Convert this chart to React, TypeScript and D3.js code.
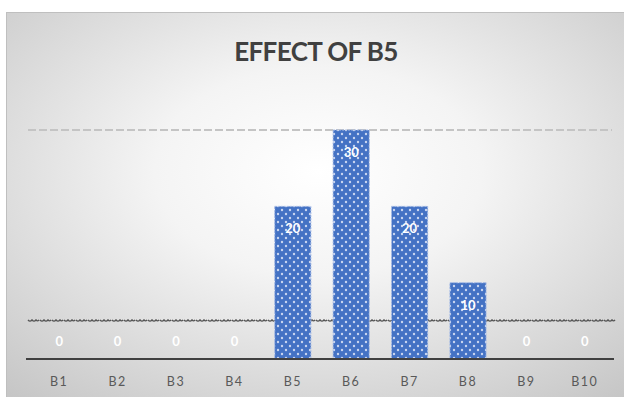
import React from "react";
import * as d3 from "d3";

const categories = ["B1", "B2", "B3", "B4", "B5", "B6", "B7", "B8", "B9", "B10"];
const values = [0, 0, 0, 0, 20, 30, 20, 10, 0, 0];
const gridTop = [30];
const gridLow = [5];
const title = "EFFECT OF B5";

const W = 624;
const H = 397;

export default function App() {
  const x = d3.scaleBand<string>().domain(categories).range([30, 614]).paddingInner(0.38).paddingOuter(0.19);
  const y = d3.scaleLinear().domain([0, 30]).range([359, 130]);

  const wave = (yy: number) => {
    const segs: string[] = [];
    for (let px = 28; px < 610; px += 12) {
      segs.push(`M${px},${yy} q2,2.6 4,0 q2,2.6 4,0 q1.5,2 3,0`);
    }
    return segs.join(" ");
  };

  return (
    <svg width={W} height={H} style={{ position: "absolute", left: 0, top: 0 }}>
      <defs>
        <radialGradient id="bg" cx="50%" cy="40%" r="75%">
          <stop offset="0%" stopColor="#ffffff" />
          <stop offset="35%" stopColor="#f4f4f4" />
          <stop offset="100%" stopColor="#c6c6c6" />
        </radialGradient>
        <pattern id="dots" width="8" height="8" patternUnits="userSpaceOnUse">
          <rect width="8" height="8" fill="#4472c4" />
          <circle cx="2" cy="2" r="1.2" fill="#c9d6f0" />
          <circle cx="6" cy="6" r="1.2" fill="#c9d6f0" />
        </pattern>
      </defs>
      <rect x={0} y={0} width={W} height={H} fill="#ffffff" />
      <rect x={6.5} y={12.5} width={W} height={H} fill="url(#bg)" stroke="#bfbfbf" strokeWidth={1} />
      <text x={316} y={61} textAnchor="middle" fontFamily="Lato, 'Open Sans', sans-serif" fontWeight="bold" fontSize={26} fill="#404040" letterSpacing={-0.6}>
        {title}
      </text>
      {gridTop.map((v) => (
        <line key={"t" + v} x1={28} x2={612} y1={y(v)} y2={y(v)} stroke="#c4c4c4" strokeWidth={2} strokeDasharray="8 3" />
      ))}
      {gridLow.map((v) => (
        <path key={"l" + v} d={wave(y(v) - 1)} fill="none" stroke="#555555" strokeWidth={1.4} />
      ))}
      {categories.map((c, i) => {
        const v = values[i];
        const bx = x(c)!;
        const bw = x.bandwidth();
        return (
          <g key={c}>
            {v > 0 && (
              <rect x={bx} y={y(v)} width={bw} height={y(0) - y(v)} fill="url(#dots)" stroke="#a9bde6" strokeWidth={1} strokeDasharray="2 1" />
            )}
            <text x={bx + bw / 2} y={v > 0 ? y(v) + 27 : y(0) - 13} textAnchor="middle" fontFamily="Lato, 'Open Sans', sans-serif" fontWeight="bold" fontSize={13} fill="#ffffff">
              {v}
            </text>
            <text x={bx + bw / 2} y={386} textAnchor="middle" fontFamily="Lato, 'Open Sans', sans-serif" fontSize={12.5} fill="#595959" letterSpacing={1.5}>
              {c}
            </text>
          </g>
        );
      })}
      <line x1={26} x2={614} y1={y(0)} y2={y(0)} stroke="#404040" strokeWidth={2} />
    </svg>
  );
}
